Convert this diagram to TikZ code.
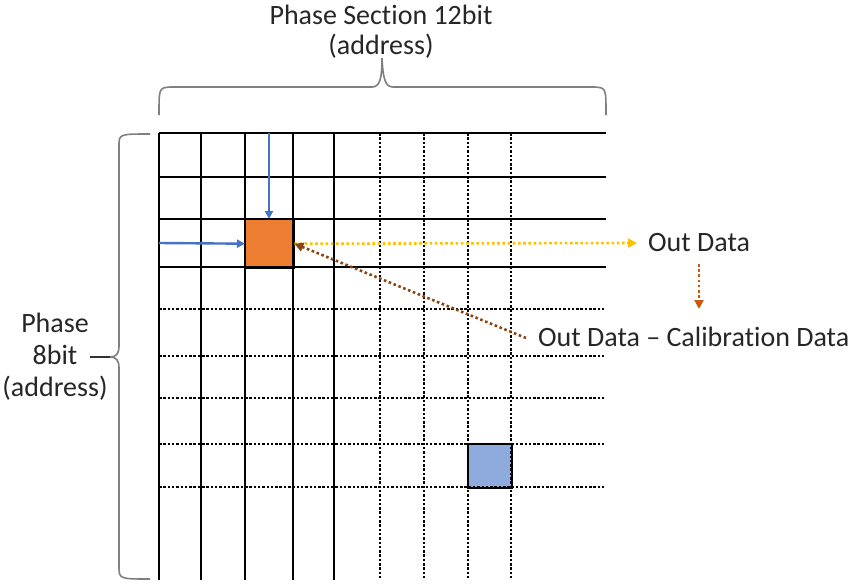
\documentclass[tikz,border=0pt]{standalone}
\usepackage{fontspec}
\setmainfont{Carlito}[Ligatures=NoCommon]
\usetikzlibrary{arrows.meta}
\definecolor{gridblk}{HTML}{000000}
\definecolor{cellorange}{HTML}{ED7D31}
\definecolor{cellblue}{HTML}{8FAADC}
\definecolor{arrblue}{HTML}{4472C4}
\definecolor{arryellow}{HTML}{FFC000}
\definecolor{arrorange}{HTML}{C55A11}
\definecolor{arrbrown}{HTML}{8B4513}
\definecolor{bracegray}{HTML}{7F7F7F}
\tikzset{
  solidgrid/.style={draw=gridblk, line width=1.4pt},
  dashgrid/.style={draw=gridblk, line width=1.2pt, dash pattern=on 2.5pt off 1.8pt},
  cellbox/.style={draw=gridblk, line width=1.4pt, minimum width=#1, minimum height=#1, inner sep=0pt, anchor=north west},
  bluearrow/.style={draw=arrblue, line width=2.4pt, -{Triangle[length=8pt,width=8pt]}},
  yellowarrow/.style={draw=arryellow, line width=2.6pt, dash pattern=on 2.6pt off 2.6pt, -{Triangle[length=9pt,width=9pt]}},
  orangearrow/.style={draw=arrorange, line width=2.6pt, dash pattern=on 2.6pt off 2.6pt, -{Triangle[length=9pt,width=9pt]}},
  brownarrow/.style={draw=arrbrown, line width=2.6pt, dash pattern=on 2.6pt off 2.6pt, -{Triangle[length=9pt,width=9pt]}},
  bracestyle/.style={draw=bracegray, line width=1.6pt},
  lbl/.style={font=\fontsize{28}{30}\selectfont, inner sep=0pt, text=black!85},
  lbltall/.style={font=\fontsize{28}{32}\selectfont, inner sep=0pt, text=black!85},
}
\begin{document}
\begin{tikzpicture}[x=1pt,y=-1pt]
\useasboundingbox (0,0) rectangle (852,584);
% cells
\node[cellbox=48pt, fill=cellorange] (oc) at (245,219) {};
\node[cellbox=43pt, fill=cellblue] (bc) at (468,444) {};
% solid verticals
\foreach \x in {159,201,245,293,334}
  \draw[solidgrid] (\x,133) -- (\x,580);
% dashed verticals
\foreach \x in {380,424,468,511}
  \draw[dashgrid] (\x,133) -- (\x,580);
% solid horizontals
\foreach \y in {133,177,219,267}
  \draw[solidgrid] (159,\y) -- (606,\y);
% dashed horizontals
\foreach \y in {309,356,398,444,487}
  \draw[dashgrid] (159,\y) -- (606,\y);
% redraw cell borders on top
\draw[line width=1.4pt] (oc.north west) rectangle (oc.south east);
\draw[line width=1.4pt] (bc.north west) rectangle (bc.south east);
% blue arrows
\coordinate (vtop) at (269,133);
\coordinate (hleft) at (159,243);
\draw[bluearrow] (vtop) -- (vtop |- oc.north);
\draw[bluearrow] (hleft) -- (oc.west);
% labels
\node[lbl, anchor=west] (out) at (648,243) {Out Data};
\node[lbl, anchor=west] (cal) at (538,337) {Out Data – Calibration Data};
\node[lbl, align=center] (top) at (381,32) {Phase Section 12bit\\(address)};
\node[lbltall, align=center] (left) at (55,357) {Phase\\8bit\\(address)};
% data arrows
\coordinate (outend) at (637,243);
\coordinate (downstart) at (699,264);
\coordinate (downend) at (699,309);
\coordinate (calstart) at (526,338);
\draw[yellowarrow] (oc.east) -- (outend);
\draw[orangearrow] (downstart) -- (downend);
\draw[brownarrow] (calstart) -- (oc.east);
% top brace
\draw[bracestyle] (159,115) .. controls (159,88) .. (170,87) -- (372,87)
  .. controls (380,87) and (382,78) .. (382,58)
  .. controls (383,78) and (385,87) .. (393,87) -- (595,87)
  .. controls (606,88) .. (606,115);
% left brace
\coordinate (ltip) at (110,357);
\draw[bracestyle] (150,134) .. controls (119,134) .. (119,146) -- (119,346)
  .. controls (119,354) and (116,357) .. (ltip)
  .. controls (116,357) and (119,360) .. (119,368) -- (119,566)
  .. controls (119,579) .. (150,579);
\coordinate (lead) at (90,357);
\draw[draw=black!80, line width=1.6pt] (lead) -- (ltip);
\end{tikzpicture}
\end{document}
